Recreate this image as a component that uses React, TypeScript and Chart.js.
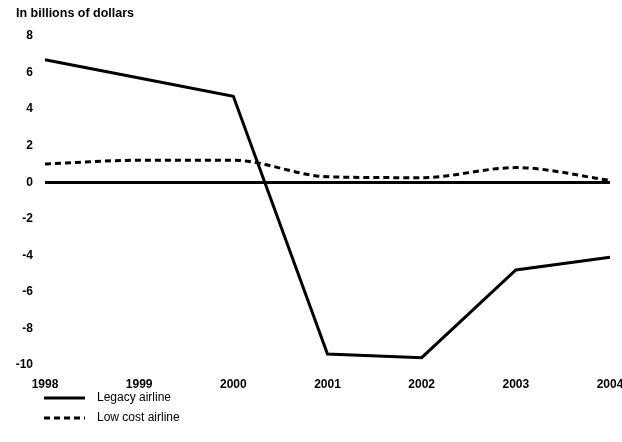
import React, { useEffect, useRef } from 'react';
import { Chart, registerables } from 'chart.js';

Chart.register(...registerables);

const years = ['1998', '1999', '2000', '2001', '2002', '2003', '2004'];
const legacyAirline = [6.7, 5.7, 4.7, -9.4, -9.6, -4.8, -4.1];
const lowCostAirline = [1.0, 1.2, 1.2, 0.3, 0.25, 0.8, 0.1];
const seriesLabels = ['Legacy airline', 'Low cost airline'];
const yMin = -10;
const yMax = 8;
const yStep = 2;
const unitTitle = 'In billions of dollars';

const FONT = '"Liberation Sans", Arial, sans-serif';

const overlayPlugin = {
  id: 'overlay',
  afterDraw(chart: any) {
    const ctx = chart.ctx;
    ctx.save();
    ctx.fillStyle = '#000';
    ctx.font = `bold 12.5px ${FONT}`;
    ctx.textBaseline = 'middle';
    ctx.textAlign = 'left';
    ctx.fillText(unitTitle, 16, 14);

    const rows = [398, 418];
    chart.data.datasets.forEach((ds: any, i: number) => {
      const y = rows[i];
      ctx.beginPath();
      ctx.strokeStyle = '#000';
      ctx.lineWidth = 3;
      ctx.setLineDash(ds.borderDash || []);
      ctx.moveTo(44, y);
      ctx.lineTo(85, y);
      ctx.stroke();
      ctx.setLineDash([]);
      ctx.font = `12px ${FONT}`;
      ctx.fillText(ds.label, 97, y);
    });
    ctx.restore();
  },
};

export default function App() {
  const ref = useRef<HTMLCanvasElement | null>(null);

  useEffect(() => {
    if (!ref.current) return;
    const chart = new Chart(ref.current, {
      type: 'line',
      data: {
        labels: years,
        datasets: [
          {
            label: seriesLabels[0],
            data: legacyAirline,
            borderColor: '#000',
            borderWidth: 3,
            pointRadius: 0,
            tension: 0,
            fill: false,
          },
          {
            label: seriesLabels[1],
            data: lowCostAirline,
            borderColor: '#000',
            borderWidth: 3,
            borderDash: [6, 4],
            pointRadius: 0,
            tension: 0.4,
            cubicInterpolationMode: 'monotone',
            fill: false,
          },
        ],
      },
      options: {
        responsive: false,
        animation: false,
        layout: { padding: { top: 36, right: 0, bottom: 47, left: 0 } },
        plugins: {
          legend: { display: false },
          tooltip: { enabled: false },
          title: { display: false },
        },
        scales: {
          x: {
            type: 'category',
            offset: false,
            grid: { display: false, drawTicks: false },
            border: { display: false },
            ticks: {
              color: '#000',
              padding: 12,
              maxRotation: 0,
              autoSkip: false,
              font: { family: FONT, size: 12, weight: 'bold' },
            },
            afterFit(scale: any) {
              scale.height = 30;
              scale.paddingRight = 12;
              scale.paddingLeft = 0;
            },
          },
          y: {
            min: yMin,
            max: yMax,
            ticks: {
              stepSize: yStep,
              color: '#000',
              padding: 12,
              font: { family: FONT, size: 12, weight: 'bold' },
            },
            grid: {
              drawTicks: false,
              color: (c: any) => (c.tick && c.tick.value === 0 ? '#000' : 'rgba(0,0,0,0)'),
              lineWidth: (c: any) => (c.tick && c.tick.value === 0 ? 3 : 0),
            },
            border: { display: false },
            afterFit(scale: any) {
              scale.width = 45;
            },
          },
        },
      },
      plugins: [overlayPlugin],
    } as any);
    return () => chart.destroy();
  }, []);

  return (
    <div style={{ position: 'fixed', left: 0, top: 0, width: 622, height: 442, background: '#fff' }}>
      <canvas ref={ref} width={622} height={442} style={{ width: 622, height: 442, display: 'block' }} />
    </div>
  );
}
